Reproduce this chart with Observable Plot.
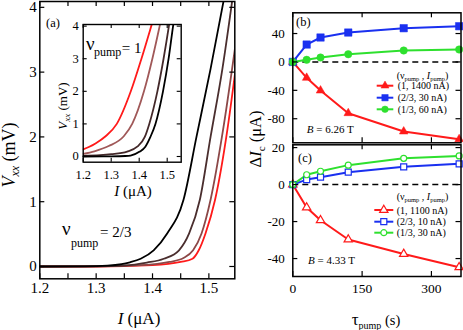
<!DOCTYPE html>
<html><head><meta charset="utf-8">
<script src="https://cdn.jsdelivr.net/npm/d3@7"></script>
<script src="https://cdn.jsdelivr.net/npm/@observablehq/plot@0.6"></script>
<style>
html,body{margin:0;padding:0;background:#fff;}
#wrap{position:relative;width:463px;height:330px;overflow:hidden;background:#fff;}
#wrap svg{position:absolute;left:0;top:0;}
#wrap svg, #wrap svg text, #wrap svg g {font-family:"Liberation Serif","Times New Roman",serif !important;}
</style></head><body><div id="wrap"></div>
<script>
// ---------- data: panel (a) main, nu_pump = 2/3  [I (uA), Vxx (mV)] ----------
const mainBlack  = [[1.20,0],[1.28,0.002],[1.32,0.012],[1.345,0.035],[1.36,0.065],[1.379,0.12],[1.402,0.25],[1.426,0.51],[1.455,1.03],[1.478,2.0],[1.503,3.05],[1.527,4.14]];
const mainDark   = [[1.20,0],[1.30,0.004],[1.35,0.015],[1.39,0.06],[1.42,0.12],[1.447,0.25],[1.465,0.51],[1.484,1.03],[1.503,2.0],[1.524,3.05],[1.542,4.14]];
const mainMedium = [[1.20,0],[1.30,0.002],[1.38,0.02],[1.43,0.07],[1.455,0.13],[1.472,0.25],[1.487,0.51],[1.503,1.03],[1.525,2.1],[1.547,3.41]];
const mainRed    = [[1.20,0],[1.30,0.0],[1.40,0.02],[1.45,0.07],[1.471,0.12],[1.482,0.25],[1.494,0.51],[1.511,1.03],[1.533,2.12],[1.547,3.02]];
// ---------- data: panel (a) inset, nu_pump = 1 ----------
const insetRed    = [[1.20,0.22],[1.22,0.29],[1.244,0.4],[1.28,0.62],[1.32,1.0],[1.37,2.0],[1.408,3.0],[1.443,4.0],[1.455,4.35]];
const insetMedium = [[1.20,0.08],[1.24,0.16],[1.291,0.32],[1.345,0.62],[1.375,1.0],[1.417,2.0],[1.447,3.0],[1.473,4.0],[1.483,4.4]];
const insetDark   = [[1.20,0.02],[1.26,0.04],[1.30,0.07],[1.357,0.15],[1.393,0.3],[1.42,0.6],[1.436,1.0],[1.465,2.0],[1.487,3.0],[1.506,4.0],[1.513,4.4]];
const insetBlack  = [[1.20,0.0],[1.30,0.005],[1.35,0.015],[1.369,0.03],[1.402,0.15],[1.422,0.3],[1.44,0.6],[1.458,1.0],[1.485,2.0],[1.505,3.0],[1.521,4.0],[1.528,4.4]];
// ---------- data: panels (b), (c) ----------
const tau    = [0, 30, 60, 120, 240, 360];
const bRed   = [0, -22.4, -40.3, -72.2, -98, -108.8];
const bBlue  = [0, 24.5, 34.4, 41.4, 47.5, 50.3];
const bGreen = [0, 3.0, 6.2, 10.8, 16.1, 17.5];
const cRed   = [0, -12.4, -19.3, -29.7, -37.5, -44.7];
const cBlue  = [0, 2.7, 4.0, 6.7, 9.6, 11.2];
const cGreen = [0, 5.3, 7.2, 10.5, 14.2, 15.5];
const bLegend = ["(1, 1400 nA)", "(2/3, 30 nA)", "(1/3, 60 nA)"];
const cLegend = ["(1, 1100 nA)", "(2/3, 10 nA)", "(1/3, 30 nA)"];
// ---------- ticks ----------
const aTickMarksX = [1.2,1.25,1.3,1.35,1.4,1.45,1.5];
const aTickLabelsX = [1.2,1.3,1.4,1.5];
const aTicksY = [0,1,2,3,4];
const insetTicksX = [1.2,1.3,1.4,1.5];
const insetTicksY = [0,1,2,3,4];
const bTicksY = [-80,-40,0,40];
const cTicksY = [-40,-20,0,20];
const tauTicks = [0,150,300];

const W = 463, H = 330;
const FONT = "Liberation Serif, Times New Roman, serif";
const RED = "#ff1a1a", BLUE = "#1a30f0", GREEN = "#2ee02e";
const wrap = document.getElementById("wrap");

function base(f) {
  return {width: W, height: H, marginLeft: f.l, marginTop: f.t, marginRight: W - f.r, marginBottom: H - f.b,
    style: {background: "transparent", fontFamily: FONT, fontSize: "15px", overflow: "visible"}};
}
function frameTicks(f, xs, ys, len, sw) {
  const fw = f.r - f.l, fh = f.b - f.t;
  return [
    Plot.tickX(xs, {x: d => d, insetTop: fh - len, strokeWidth: sw}),
    Plot.tickX(xs, {x: d => d, insetBottom: fh - len, strokeWidth: sw}),
    Plot.tickY(ys, {y: d => d, insetRight: fw - len, strokeWidth: sw}),
    Plot.tickY(ys, {y: d => d, insetLeft: fw - len, strokeWidth: sw})
  ];
}
const P = d => d[0], V = d => d[1];
const curve = (data, color) => Plot.line(data, {x: P, y: V, stroke: color, strokeWidth: 1.8, curve: "monotone-x", clip: true});

// ---------- panel (a) main ----------
const A = {l: 39.3, r: 234.3, t: 1, b: 278.3};
wrap.append(Plot.plot({
  ...base(A),
  x: {domain: [1.2, 1.546]},
  y: {domain: [-0.19, 4.09]},
  marks: [
    curve(mainRed, RED), curve(mainMedium, "#8c4848"), curve(mainDark, "#4a2e2e"), curve(mainBlack, "#000"),
    ...frameTicks(A, aTickMarksX, aTicksY, 5, 1.2),
    Plot.axisX({ticks: aTickLabelsX, tickSize: 0, tickPadding: 4, fontSize: 15, fontFamily: FONT, tickFormat: d => d.toFixed(1), label: null}),
    Plot.axisY({ticks: aTicksY, tickSize: 0, tickPadding: 3, fontSize: 15, fontFamily: FONT, tickFormat: d => String(d), label: null}),
    Plot.frame({strokeWidth: 1.5})
  ]
}));

// ---------- panel (a) inset ----------
const I = {l: 82.7, r: 180.7, t: 24, b: 161.7};
wrap.append(Plot.plot({
  ...base(I),
  x: {domain: [1.2, 1.55]},
  y: {domain: [-0.175, 4.05]},
  marks: [
    Plot.frame({fill: "white", stroke: "none"}),
    curve(insetRed, RED), curve(insetMedium, "#a05858"), curve(insetDark, "#44292a"), curve(insetBlack, "#000"),
    ...frameTicks(I, insetTicksX, insetTicksY, 4, 1.1),
    Plot.axisX({ticks: insetTicksX, tickSize: 0, tickPadding: 8, fontSize: 12.5, fontFamily: FONT, tickFormat: d => d.toFixed(1), label: null}),
    Plot.axisY({ticks: insetTicksY, tickSize: 0, tickPadding: 4.4, fontSize: 12.5, fontFamily: FONT, tickFormat: d => String(d), label: null}),
    Plot.frame({strokeWidth: 1.4})
  ]
}));

// ---------- panels (b) and (c) ----------
function series(vals) { return tau.map((t, i) => ({t, v: vals[i]})); }
function tauPanel(f, yDomain, yTicks, red, blue, green, open, xLabels) {
  const sw = open ? 1.2 : 0.5;
  const dot = (vals, color, symbol, r) => Plot.dot(series(vals), {x: "t", y: "v", symbol, r,
    fill: open ? "white" : color, stroke: color, strokeWidth: sw});
  const ln = (vals, color) => Plot.line(series(vals), {x: "t", y: "v", stroke: color, strokeWidth: 2});
  return Plot.plot({
    ...base(f),
    x: {domain: [0, 364], axis: xLabels ? undefined : null},
    y: {domain: yDomain},
    marks: [
      Plot.ruleY([0], {strokeDasharray: "6,4", strokeWidth: 1.5}),
      ln(red, RED), ln(blue, BLUE), ln(green, GREEN),
      dot(red, RED, "triangle", open ? 3.1 : 3.2),
      dot(blue, BLUE, "square", open ? 3.4 : 4.2),
      dot(green, GREEN, "circle", open ? 3.0 : 3.7),
      ...frameTicks(f, tauTicks, yTicks, 5, 1.2),
      ...(xLabels ? [Plot.axisX({ticks: tauTicks, tickSize: 0, tickPadding: 7, fontSize: 13.5, fontFamily: FONT, tickFormat: d => String(d), label: null})] : []),
      Plot.axisY({ticks: yTicks, tickSize: 0, tickPadding: 8, fontSize: 13, fontFamily: FONT, tickFormat: d => String(d), label: null}),
      Plot.frame({strokeWidth: 1.5})
    ]
  });
}
const B = {l: 292.3, r: 460.5, t: 12.3, b: 142.3};
const C = {l: 292.3, r: 460.5, t: 144.3, b: 276};
wrap.append(tauPanel(B, [-113.9, 69.2], bTicksY, bRed, bBlue, bGreen, false, false));
wrap.append(tauPanel(C, [-49.7, 21.5], cTicksY, cRed, cBlue, cGreen, true, true));

// ---------- overlay: labels and legends ----------
const ov = d3.select(wrap).append("svg").attr("width", W).attr("height", H)
  .attr("font-family", FONT).style("overflow", "visible");
function label(x, y, parts, o = {}) {
  const t = ov.append("text").attr("x", x).attr("y", y)
    .attr("font-size", o.size || 15).attr("text-anchor", o.anchor || "start").attr("fill", "#000");
  if (o.rotate) t.attr("transform", `rotate(${o.rotate},${x},${y})`);
  let shift = 0;
  for (const p of parts) {
    const s = t.append("tspan").text(p.t);
    if (p.i) s.attr("font-style", "italic");
    if (p.s) s.attr("font-size", p.s);
    const d = p.dy || 0;
    if (d !== shift) { s.attr("dy", d - shift); shift = d; }
  }
  return t;
}
// panel (a)
label(46, 27.4, [{t: "(a)"}], {size: 12.5});
label(15.3, 155, [{t: "V", i: true}, {t: "xx", i: true, s: 12, dy: 4}, {t: " (mV)"}], {size: 18, anchor: "middle", rotate: -90});
label(139, 324, [{t: "I", i: true}, {t: " (μA)"}], {size: 17, anchor: "middle"});
label(62, 235, [{t: "ν"}], {size: 19});
label(71, 247, [{t: "pump"}], {size: 12});
label(100, 237, [{t: "= 2/3"}], {size: 15});
// inset
label(66.5, 106, [{t: "V", i: true}, {t: "xx", i: true, s: 9, dy: 3}, {t: " (mV)"}], {size: 13, anchor: "middle", rotate: -90});
label(133, 196, [{t: "I", i: true}, {t: " (μA)"}], {size: 15, anchor: "middle"});
label(86, 49.5, [{t: "ν"}], {size: 19});
label(94, 56, [{t: "pump"}], {size: 12});
label(121.7, 52.5, [{t: "= 1"}], {size: 15});
// panels (b), (c)
label(296, 26.4, [{t: "(b)"}], {size: 12.5});
label(298, 162, [{t: "(c)"}], {size: 12.5});
label(306.7, 133.3, [{t: "B", i: true}, {t: " = 6.26 T"}], {size: 11});
label(308, 264, [{t: "B", i: true}, {t: " = 4.33 T"}], {size: 11});
label(260.6, 139, [{t: "Δ"}, {t: "I", i: true}, {t: "c", s: 11, dy: 4}, {t: " (μA)"}], {size: 16.5, anchor: "middle", rotate: -90});
label(351.7, 325, [{t: "τ"}], {size: 17});
label(358.5, 329, [{t: "pump"}], {size: 10});
label(385, 324.5, [{t: "(s)"}], {size: 14.5});

function legend(hx, hy, tx, ys, names, x0, x1, open) {
  label(hx, hy, [{t: "(ν"}, {t: "pump", s: 6.5, dy: 2}, {t: " , "}, {t: "I", i: true}, {t: "pump", s: 6.5, dy: 2}, {t: ")"}], {size: 10});
  const spec = [[RED, d3.symbolTriangle, open ? 3.1 : 3.0], [BLUE, d3.symbolSquare, open ? 3.4 : 3.6], [GREEN, d3.symbolCircle, open ? 3.0 : 3.3]];
  names.forEach((n, k) => {
    const [color, sym, r] = spec[k], y = ys[k];
    ov.append("line").attr("x1", x0).attr("x2", x1).attr("y1", y).attr("y2", y).attr("stroke", color).attr("stroke-width", 2);
    ov.append("path").attr("d", d3.symbol(sym, Math.PI * r * r)()).attr("transform", `translate(${(x0 + x1) / 2},${y})`)
      .attr("fill", open ? "#fff" : color).attr("stroke", color).attr("stroke-width", open ? 1.2 : 0.5);
    label(tx, y + 3.5, [{t: n}], {size: 10});
  });
}
legend(396.7, 78.5, 397.7, [85.7, 97.7, 109.3], bLegend, 376.7, 393.3, false);
legend(396.7, 200.2, 396.7, [210, 221.7, 232.7], cLegend, 374.3, 393.3, true);
</script></body></html>
